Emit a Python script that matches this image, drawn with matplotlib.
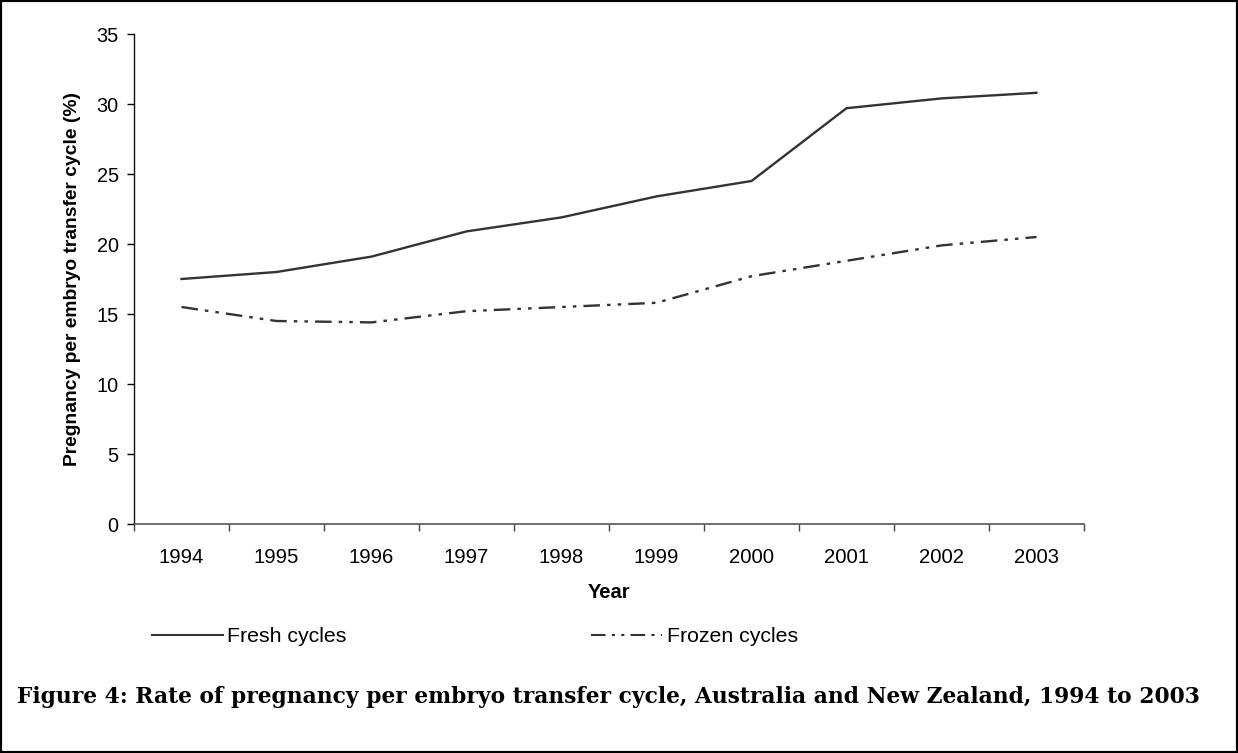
import matplotlib
matplotlib.use("Agg")
import matplotlib.pyplot as plt
from matplotlib.lines import Line2D
from matplotlib.patches import Rectangle

years = ["1994", "1995", "1996", "1997", "1998", "1999", "2000", "2001", "2002", "2003"]
fresh = [17.5, 18.0, 19.1, 20.9, 21.9, 23.4, 24.5, 29.7, 30.4, 30.8]
frozen = [15.5, 14.5, 14.4, 15.2, 15.5, 15.8, 17.7, 18.8, 19.9, 20.5]
yticks = [0, 5, 10, 15, 20, 25, 30, 35]

W, H = 1238, 753
fig = plt.figure(figsize=(W / 100, H / 100), dpi=100)
plt.rcParams['font.family'] = ['Liberation Sans', 'DejaVu Sans']

left, right, top, bottom = 134, 1084, 34, 524
ax = fig.add_axes([left / W, 1 - bottom / H, (right - left) / W, (bottom - top) / H])

x = list(range(len(years)))
lc = '#333333'
ax.plot(x, fresh, color=lc, lw=1.7, solid_joinstyle='round')
frozen_ls = (0, (7, 3, 1.5, 3, 1.5, 3))
ax.plot(x, frozen, color=lc, lw=1.7, linestyle=frozen_ls)

ax.set_xlim(-0.5, len(years) - 0.5)
ax.set_ylim(0, 35)
ax.set_yticks(yticks)
ax.set_yticklabels([str(v) for v in yticks], fontsize=14.3)
ax.set_xticks([i - 0.5 for i in range(len(years) + 1)])
ax.set_xticklabels([])
ax.set_xticks(x, minor=True)
ax.set_xticklabels(years, minor=True, fontsize=14.6)
ax.tick_params(axis='x', which='minor', length=0, pad=17)
ax.tick_params(axis='x', which='major', length=5, width=1, color='#444444')
ax.tick_params(axis='y', length=5, width=1, pad=6)

for s in ['top', 'right']:
    ax.spines[s].set_visible(False)
ax.spines['left'].set_color('#111111')
ax.spines['bottom'].set_color('#555555')
ax.spines['left'].set_linewidth(1)
ax.spines['bottom'].set_linewidth(1.2)

ax.set_xlabel('Year', fontsize=14.5, fontweight='bold', labelpad=12)
ax.set_ylabel('Pregnancy per embryo transfer cycle (%)', fontsize=13.9, fontweight='bold', labelpad=11)

handles = [Line2D([], [], color=lc, lw=1.5),
           Line2D([], [], color=lc, lw=1.5, linestyle=frozen_ls)]
fig.legend(handles, ['Fresh cycles', 'Frozen cycles'], loc='center left',
           bbox_to_anchor=(152 / W, 1 - 637 / H), ncol=2, frameon=False,
           fontsize=15.3, handlelength=3.35, handletextpad=0.2, columnspacing=11.5,
           borderpad=0, borderaxespad=0)

fig.text(17 / W, 1 - 697 / H,
         'Figure 4: Rate of pregnancy per embryo transfer cycle, Australia and New Zealand, 1994 to 2003',
         fontsize=15.7, fontweight='bold', family=['DejaVu Serif'],
         va='center', ha='left')

fig.patches.append(Rectangle((0, 0), 1, 1, transform=fig.transFigure, fill=False,
                             edgecolor='black', linewidth=3, zorder=10))

fig.savefig('out.png', dpi=100)
